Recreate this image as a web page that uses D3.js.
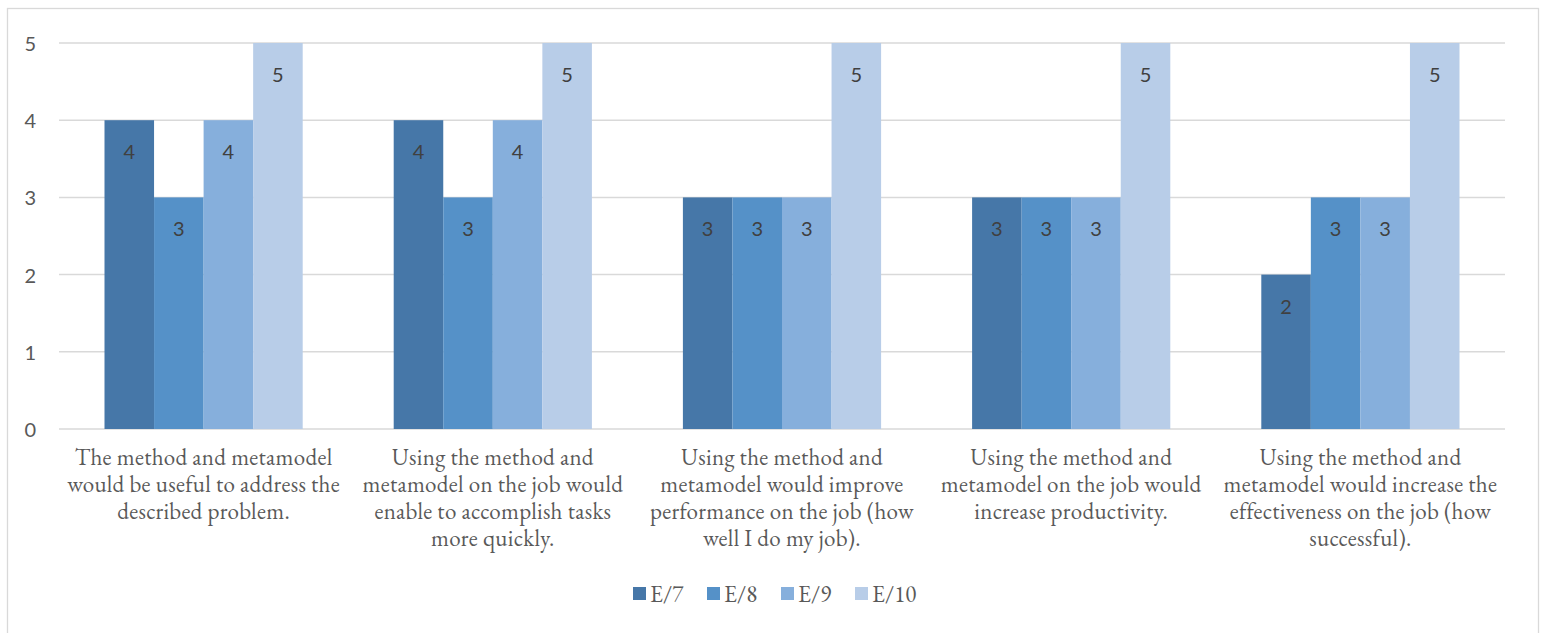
<!DOCTYPE html>
<html>
<head>
<meta charset="utf-8">
<script src="https://cdn.jsdelivr.net/npm/d3@7"></script>
<style>
  html, body { margin: 0; padding: 0; background: #fff; }
  svg { display: block; }
</style>
</head>
<body>
<svg id="chart" width="1544" height="633"></svg>
<script>
// ---- data ----
const categories = [
  ["The method and metamodel", "would be useful to address the", "described problem."],
  ["Using the method and", "metamodel on the job would", "enable to accomplish tasks", "more quickly."],
  ["Using the method and", "metamodel would improve", "performance on the job (how", "well I do my job)."],
  ["Using the method and", "metamodel on the job would", "increase productivity."],
  ["Using the method and", "metamodel would increase the", "effectiveness on the job (how", "successful)."]
];
const seriesNames = ["E/7", "E/8", "E/9", "E/10"];
const e7  = [4, 4, 3, 3, 2];
const e8  = [3, 3, 3, 3, 3];
const e9  = [4, 4, 3, 3, 3];
const e10 = [5, 5, 5, 5, 5];
const yTicks = [0, 1, 2, 3, 4, 5];
const colors = ["#4677A8", "#5591C8", "#86AFDC", "#B8CDE8"];

const seriesValues = [e7, e8, e9, e10];

// ---- layout ----
const svg = d3.select("#chart");
const plot = { left: 59, right: 1505, top: 43, bottom: 429 };
const serif = "'EB Garamond', 'Liberation Serif', 'DejaVu Serif', serif";
const sans = "'Lato', 'Open Sans', 'Liberation Sans', sans-serif";

// chart border
svg.append("rect")
  .attr("x", 7.5).attr("y", 8.5)
  .attr("width", 1531).attr("height", 640)
  .attr("fill", "#fff").attr("stroke", "#D9D9D9").attr("stroke-width", 1.3);

const catIdx = d3.range(categories.length);
const x0 = d3.scaleBand().domain(catIdx).range([plot.left, plot.right]).paddingInner(0).paddingOuter(0);
const gapPx = 45.5;
const x1 = d3.scaleBand().domain(d3.range(seriesNames.length)).range([gapPx, x0.bandwidth() - gapPx]).padding(0);
const y = d3.scaleLinear().domain([0, 5]).range([plot.bottom, plot.top]);

// gridlines
svg.append("g").selectAll("line").data(yTicks).join("line")
  .attr("x1", plot.left).attr("x2", plot.right)
  .attr("y1", d => y(d)).attr("y2", d => y(d))
  .attr("stroke", "#D9D9D9").attr("stroke-width", 1.5);

// y tick labels
svg.append("g").selectAll("text").data(yTicks).join("text")
  .attr("x", 36).attr("y", d => y(d))
  .attr("text-anchor", "end").attr("dominant-baseline", "central")
  .attr("font-family", sans)
  .attr("font-size", 20).attr("fill", "#595959")
  .text(d => d);

// bars
const rows = [];
catIdx.forEach(ci => seriesValues.forEach((arr, si) => rows.push({ ci, si, v: arr[ci] })));

const bars = svg.append("g");
bars.selectAll("rect").data(rows).join("rect")
  .attr("x", d => x0(d.ci) + x1(d.si))
  .attr("y", d => y(d.v))
  .attr("width", x1.bandwidth())
  .attr("height", d => y(0) - y(d.v))
  .attr("fill", d => colors[d.si]);

// data labels
bars.selectAll("text").data(rows).join("text")
  .attr("x", d => x0(d.ci) + x1(d.si) + x1.bandwidth() / 2)
  .attr("y", d => y(d.v) + 31)
  .attr("text-anchor", "middle").attr("dominant-baseline", "central")
  .attr("font-family", sans)
  .attr("font-size", 20).attr("fill", "#404040")
  .text(d => d.v);

// category labels
const catG = svg.append("g");
catIdx.forEach(ci => {
  const cx = x0(ci) + x0.bandwidth() / 2;
  const t = catG.append("text")
    .attr("text-anchor", "middle")
    .attr("font-family", serif)
    .attr("font-size", 23)
    .attr("letter-spacing", 0.3)
    .attr("fill", "#595959");
  categories[ci].forEach((line, li) => {
    t.append("tspan")
      .attr("x", cx)
      .attr("y", 457 + li * 27)
      .attr("dominant-baseline", "central")
      .text(line);
  });
});

// legend
const legendX = [633, 707, 781, 855];
const leg = svg.append("g");
seriesNames.forEach((name, i) => {
  leg.append("rect")
    .attr("x", legendX[i]).attr("y", 587)
    .attr("width", 13).attr("height", 13)
    .attr("fill", colors[i]);
  leg.append("text")
    .attr("x", legendX[i] + 17).attr("y", 594)
    .attr("dominant-baseline", "central")
    .attr("font-family", serif)
    .attr("font-size", 23).attr("fill", "#595959")
    .text(name);
});
</script>
</body>
</html>
